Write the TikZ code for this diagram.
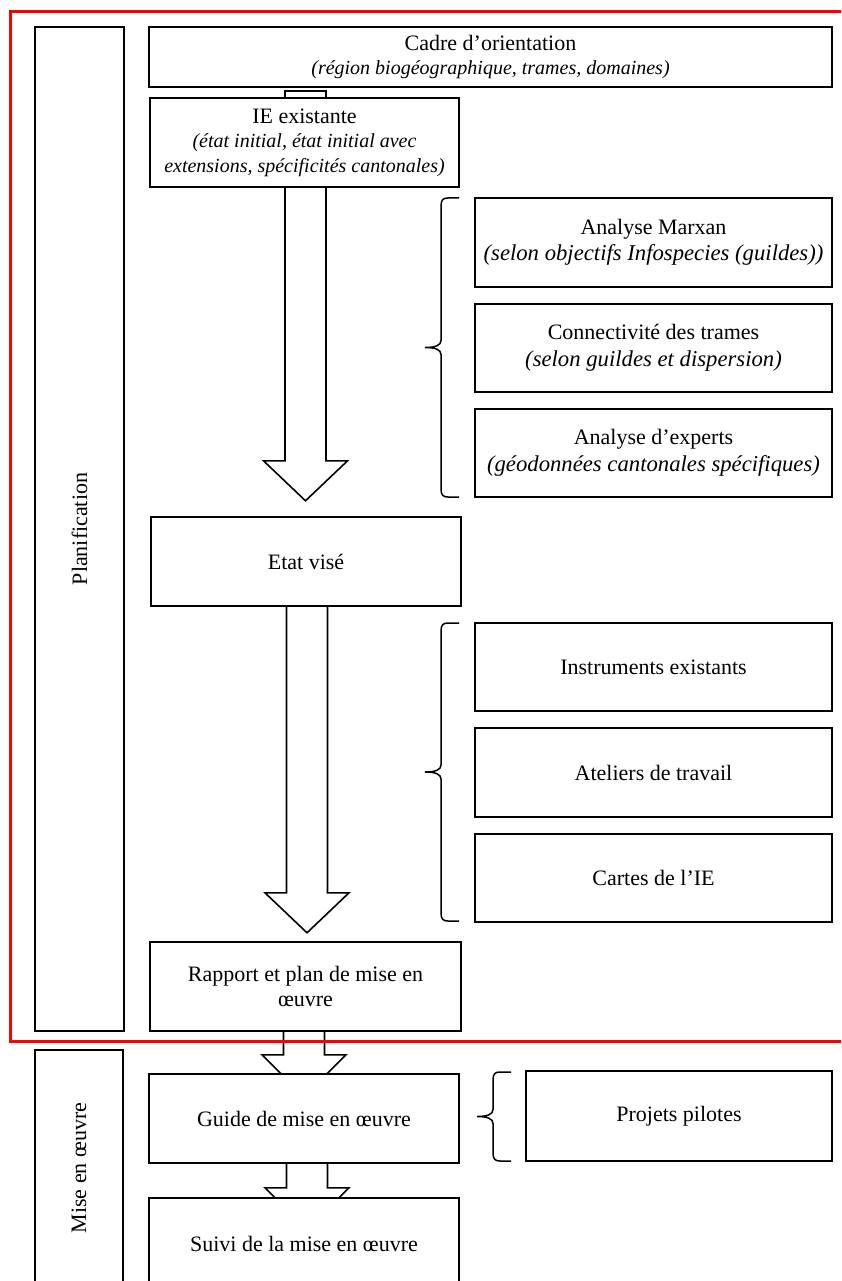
\documentclass[tikz,border=0pt]{standalone}
\usepackage{fontspec}
\setmainfont{Liberation Serif}
\usetikzlibrary{calc,backgrounds}
\newcommand\tfont{\fontsize{22}{24.5}\selectfont}
\newcommand\sfont{\fontsize{20}{24.5}\selectfont\itshape}
\newcommand\ssfont{\fontsize{22.7}{24.5}\selectfont\itshape}
\newcommand\mybrace[3]{% #1 right x of arms, #2 top y, #3 bottom y
  \pgfmathsetmacro\bm{(#2+#3)/2}
  \draw[bracestyle] (#1,#2) -- ({#1-11},#2) .. controls ({#1-16},#2) and ({#1-18},{#2+2}) .. ({#1-18},{#2+8})
    -- ({#1-18},{\bm-7}) .. controls ({#1-18},{\bm-2}) and ({#1-24},\bm) .. ({#1-34},\bm)
    .. controls ({#1-24},\bm) and ({#1-18},{\bm+2}) .. ({#1-18},{\bm+7})
    -- ({#1-18},{#3-8}) .. controls ({#1-18},{#3-2}) and ({#1-16},#3) .. ({#1-11},#3) -- (#1,#3);
}
\newcommand\blockarrow[3]{% #1 base coordinate, #2 shaft length, #3 head depth
  \draw[arrowline] ($#1+(-20.5,0)$) -- ($#1+(-20.5,#2)$) -- ($#1+(-42,#2)$) -- ($#1+(0,#2+#3)$)
    -- ($#1+(42,#2)$) -- ($#1+(20.5,#2)$) -- ($#1+(20.5,0)$);
}
\begin{document}
\begin{tikzpicture}[x=1pt,y=-1pt,
  box/.style={draw, line width=1.6pt, fill=white, align=center, inner sep=0pt, font=\tfont},
  sidebox/.style={box, minimum width=357pt},
  arrowline/.style={draw, line width=1.6pt, fill=white, line join=miter},
  bracestyle/.style={line width=1.5pt},
  frame/.style={draw=red, line width=3pt}]
\clip (0,0) rectangle (841,1281);

% left phase boxes
\node[box, rotate=90, minimum width=1004pt, minimum height=89pt] (plan) at (79.5,529) {Planification};
\node[box, rotate=90, minimum width=236pt, minimum height=88pt] (mise) at (79,1168) {Mise en œuvre};

% main column
\node[box, minimum width=683pt, minimum height=60pt] (cadre) at (490.5,57)
  {Cadre d'orientation\\[-1pt]{\sfont (région biogéographique, trames, domaines)}};
\node[box, minimum width=309pt, minimum height=89pt] (ie) at (304.5,142.5)
  {IE existante\\{\sfont (état initial, état initial avec}\\{\sfont extensions, spécificités cantonales)}};
\node[box, minimum width=310pt, minimum height=89pt] (etat) at (306,561.5) {Etat visé};
\node[box, minimum width=311pt, minimum height=89pt] (rapport) at (305.5,986.5)
  {Rapport et plan de mise en\\œuvre};
\node[box, minimum width=310pt, minimum height=89pt] (guide) at (304,1118.5) {Guide de mise en œuvre};
\node[box, minimum width=310pt, minimum height=92pt] (suivi) at (304,1244) {Suivi de la mise en œuvre};

% right column
\node[sidebox, minimum height=89pt] (marxan) at (653.5,242.5)
  {Analyse Marxan\\[2pt]{\ssfont (selon objectifs Infospecies (guildes))}};
\node[sidebox, minimum height=88pt] (connect) at (653.5,348)
  {Connectivité des trames\\[2pt]{\ssfont (selon guildes et dispersion)}};
\node[sidebox, minimum height=88pt] (experts) at (653.5,453)
  {Analyse d'experts\\[2pt]{\ssfont (géodonnées cantonales spécifiques)}};
\node[sidebox, minimum height=88pt] (instr) at (653.5,667) {Instruments existants};
\node[sidebox, minimum height=89pt] (ateliers) at (653.5,772.5) {Ateliers de travail};
\node[sidebox, minimum height=88pt] (cartes) at (653.5,878) {Cartes de l'IE};
\node[box, minimum width=306pt, minimum height=90pt] (projets) at (679,1116) {Projets pilotes};

% block arrows (behind boxes)
\begin{scope}[on background layer]
  \fill[white] (0,0) rectangle (841,1281);
  \draw[arrowline] ($(ie.north)+(-19.5,0)$) -- ($(ie.north)+(-19.5,-6)$) -- ($(ie.north)+(21.5,-6)$) -- ($(ie.north)+(21.5,0)$);
  \blockarrow{(ie.south)+(1,0)}{273}{40}
  \blockarrow{(etat.south)+(1,0)}{286}{40}
  \blockarrow{(rapport.south)+(-1.5,0)}{23}{42}
  \blockarrow{(guide.south)+(3,0)}{24}{42}
\end{scope}

% braces
\mybrace{459}{198}{497}
\mybrace{459}{623}{921}
\mybrace{511}{1072}{1161}

% red frame
\draw[frame] (850,12) -- (10,12) -- (10,1041) -- (850,1041);
\end{tikzpicture}
\end{document}
